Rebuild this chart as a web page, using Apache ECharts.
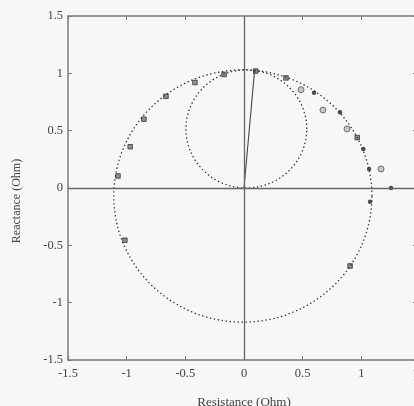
<!DOCTYPE html>
<html>
<head>
<meta charset="utf-8">
<script src="https://cdn.jsdelivr.net/npm/echarts@6/dist/echarts.min.js"></script>
<style>
html,body{margin:0;padding:0;background:#f7f7f7;overflow:hidden;}
#c{width:414px;height:406px;}
</style>
</head>
<body>
<div id="c"></div>
<script>
// Fitted circles: [centerX, centerY, radius]
var bigCircle = [-0.01, -0.07, 1.10];
var smallCircle = [0.02, 0.515, 0.515];
// Line from origin
var segment = [[0, 0], [0.09, 1.02]];
// Measured points
var squarePts = [[-1.074, 0.105], [-0.97, 0.36], [-0.853, 0.60], [-0.665, 0.80], [-0.418, 0.92],
  [-0.17, 0.99], [0.10, 1.02], [0.358, 0.96], [0.965, 0.44], [-1.015, -0.455], [0.904, -0.68]];
var filledPts = [[0.597, 0.83], [0.818, 0.66], [1.017, 0.34], [1.066, 0.166], [1.253, 0], [1.074, -0.12]];
var openPts = [[0.486, 0.857], [0.673, 0.68], [0.878, 0.515], [1.168, 0.166]];

function circlePts(c) {
  var pts = [];
  for (var i = 0; i <= 360; i += 2) {
    var a = i * Math.PI / 180;
    pts.push([c[0] + c[2] * Math.cos(a), c[1] + c[2] * Math.sin(a)]);
  }
  return pts;
}

var font = 'Liberation Serif';
var txt = '#444';
var axCol = '#7a7a7a';
var chart = echarts.init(document.getElementById('c'));
var baseAxis = {
  min: -1.5, max: 1.5, interval: 0.5,
  axisLine: {onZero: false, lineStyle: {color: axCol, width: 1.5}},
  axisTick: {inside: true, length: 4, lineStyle: {color: axCol}},
  splitLine: {show: false}
};
chart.setOption({
  backgroundColor: '#f7f7f7',
  animation: false,
  grid: {left: 68, top: 16, width: 352, height: 344, outerBoundsMode: 'none', containLabel: false},
  xAxis: [
    Object.assign({}, baseAxis, {type: 'value', position: 'bottom',
      name: 'Resistance (Ohm)', nameLocation: 'middle', nameGap: 36,
      nameTextStyle: {fontFamily: font, fontSize: 13, color: txt},
      axisLabel: {fontFamily: font, fontSize: 12.5, color: txt, margin: 7}}),
    Object.assign({}, baseAxis, {type: 'value', position: 'top', axisLabel: {show: false}})
  ],
  yAxis: [
    Object.assign({}, baseAxis, {type: 'value', position: 'left',
      name: 'Reactance (Ohm)', nameLocation: 'middle', nameGap: 45, nameRotate: 90,
      nameTextStyle: {fontFamily: font, fontSize: 12, color: txt, padding: [0, 0, 0, -26]},
      axisLabel: {fontFamily: font, fontSize: 12.5, color: txt, margin: 5}}),
    Object.assign({}, baseAxis, {type: 'value', position: 'right', axisTick: {inside: true, length: 7, lineStyle: {color: axCol}}, axisLabel: {show: false}})
  ],
  series: [
    {type: 'line', data: circlePts(bigCircle), showSymbol: false, silent: true,
      lineStyle: {color: '#333', width: 1.3, type: [1.4, 2.6]},
      markLine: {silent: true, symbol: 'none', label: {show: false},
        lineStyle: {color: '#666', width: 1.3, type: 'solid'},
        data: [{xAxis: 0}, {yAxis: 0}]}},
    {type: 'line', data: circlePts(smallCircle), showSymbol: false, silent: true,
      lineStyle: {color: '#333', width: 1.3, type: [1.4, 2.6]}},
    {type: 'line', data: segment, showSymbol: false, lineStyle: {color: '#444', width: 1.1}},
    {type: 'scatter', data: squarePts, symbol: 'rect', symbolSize: 4.5,
      itemStyle: {color: '#777', borderColor: '#333', borderWidth: 1}},
    {type: 'scatter', data: filledPts, symbol: 'circle', symbolSize: 4.5,
      itemStyle: {color: '#222'}},
    {type: 'scatter', data: openPts, symbol: 'circle', symbolSize: 6,
      itemStyle: {color: '#bbb', borderColor: '#555', borderWidth: 1}}
  ]
});
</script>
</body>
</html>
